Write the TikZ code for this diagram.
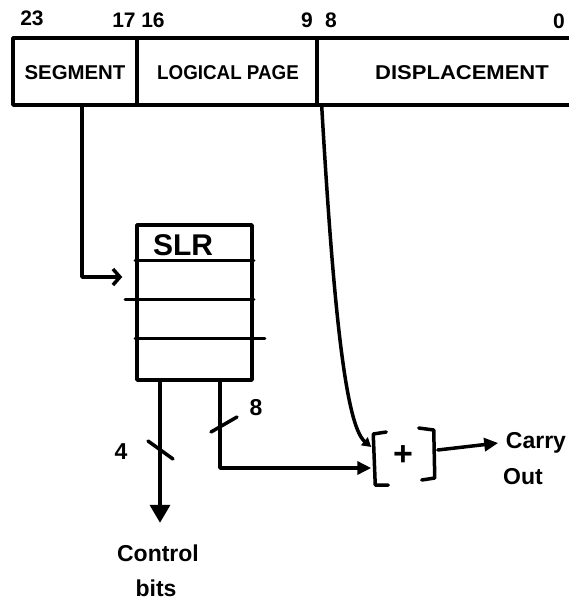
\documentclass[tikz,border=0pt]{standalone}
\usepackage{fontspec}
\setmainfont{Liberation Sans}
\usetikzlibrary{arrows.meta}
\tikzset{
  field/.style={draw, minimum height=67, inner sep=0},
  ftext/.style={font=\bfseries\fontsize{20}{20}\selectfont, inner sep=0},
  bitno/.style={font=\bfseries\fontsize{21}{21}\selectfont, inner sep=0},
  hand/.style={font=\bfseries\fontsize{23}{23}\selectfont, inner sep=0},
  tick/.style={line width=3.5pt},
  fillhead/.style={-{Triangle[length=14pt,width=13pt]}},
  barb/.style={-{Straight Barb[length=7pt,width=16pt,line width=3.5pt]}}
}
\begin{document}
\begin{tikzpicture}[x=1pt,y=-1pt,line width=3.5pt,line join=round,line cap=round]
\useasboundingbox (0,0) rectangle (569,603);
\clip (0,0) rectangle (569,603);
\fill[white] (0,0) rectangle (569,603);

% register fields
\node[field, minimum width=124] (seg) at (75,71.5) {};
\node[field, minimum width=180] (lp) at (227,71.5) {};
\node[field, minimum width=260] (disp) at (447,71.5) {};
\node[ftext, xscale=1.02] (tseg) at (75,73) {SEGMENT};
\node[ftext, xscale=0.94] (tlp) at (228,73) {LOGICAL PAGE};
\node[ftext, xscale=1.1] (tdisp) at (462,73) {DISPLACEMENT};

% bit numbers
\node[bitno] (b23) at (32,18) {23};
\node[bitno] (b17) at (124,20) {17};
\node[bitno] (b16) at (153,20) {16};
\node[bitno] (b9) at (307,20) {9};
\node[bitno] (b8) at (331,20) {8};
\node[bitno] (b0) at (559,21) {0};

% SLR
\node[draw, minimum width=115, minimum height=155, inner sep=0] (slr) at (194.5,302.5) {};
\node[font=\bfseries\fontsize{30}{30}\selectfont, inner sep=0] (tslr) at (183,245) {SLR};
\draw ([yshift=-37]slr.north west) -- ([yshift=-37]slr.north east);
\draw ([xshift=-10,yshift=-76]slr.north west) -- ([yshift=-76]slr.north east);
\draw ([yshift=-115]slr.north west) -- ([xshift=11,yshift=-115]slr.north east);

% segment -> SLR
\coordinate (segout) at ([xshift=7]seg.south);
\draw[barb, shorten >=13pt] (segout) |- ([yshift=25.5]slr.west);

% adder
\node[minimum width=60, minimum height=55, inner sep=0, font=\bfseries\fontsize{34}{34}\selectfont] (add) at (403,456) {+};
\draw ([xshift=15,yshift=24]add.west) -- ([xshift=2,yshift=22]add.west) -- ([xshift=4,yshift=-29]add.west) -- ([xshift=17,yshift=-29]add.west);
\draw ([xshift=-16,yshift=28]add.east) -- ([xshift=-1,yshift=26]add.east) -- ([xshift=0,yshift=-22]add.east) -- ([xshift=-13,yshift=-24]add.east);

% logical page -> adder
\coordinate (lpout) at ([xshift=3]lp.south east);
\draw[-{Triangle[length=9pt,width=10pt]}] (lpout) .. controls (333,300) and (345,425) .. ([yshift=9]add.west);

% SLR outputs
\coordinate (ctlout) at ([xshift=-34.5]slr.south);
\coordinate (pgout) at ([xshift=25.5]slr.south);
\node[hand] (ctl) at (158,553) {Control};
\node[hand] (bits) at (156,588) {bits};
\draw[-{Triangle[length=18pt,width=20pt]}] (ctlout) -- ([yshift=20]ctl.north -| ctlout);
\draw[fillhead] (pgout) |- ([yshift=-12]add.west);

% width ticks
\draw[tick] (148,441) -- (173,459);
\node[hand] (n4) at (121,452) {4};
\draw[tick] (211,432) -- (237,417);
\node[hand] (n8) at (256,408) {8};

% carry out
\node[hand] (carry) at (536,443) {Carry};
\node[hand] (out) at (523,477) {Out};
\draw[fillhead] ([xshift=3,yshift=6]add.east) -- ([xshift=-6]carry.west);
\end{tikzpicture}
\end{document}
